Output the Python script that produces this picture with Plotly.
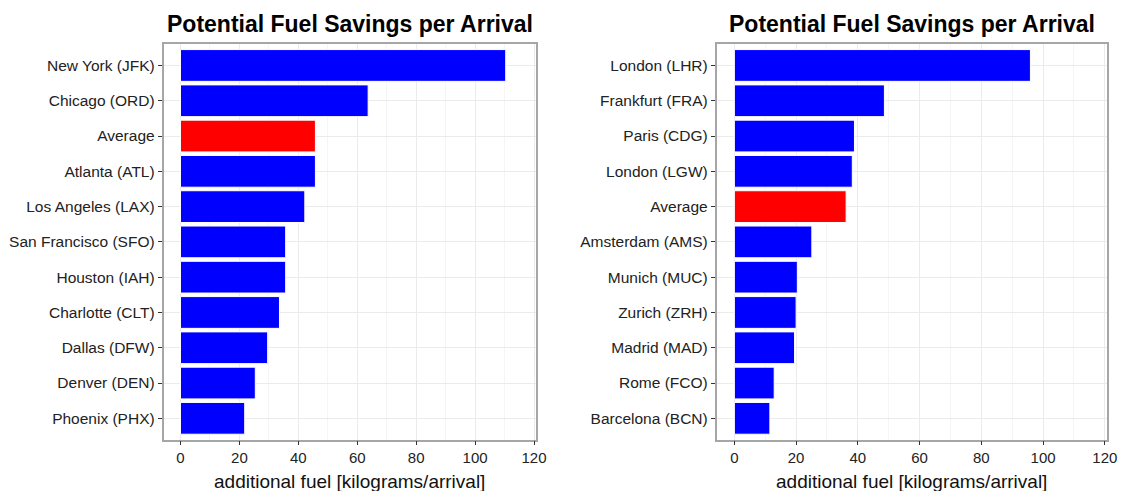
import plotly.graph_objects as go

# US airports (top to bottom)
us_airports = ["New York (JFK)", "Chicago (ORD)", "Average", "Atlanta (ATL)",
               "Los Angeles (LAX)", "San Francisco (SFO)", "Houston (IAH)",
               "Charlotte (CLT)", "Dallas (DFW)", "Denver (DEN)", "Phoenix (PHX)"]
us_fuel = [110.4, 63.7, 45.8, 45.8, 42.2, 35.7, 35.7, 33.6, 29.6, 25.4, 21.8]

# European airports (top to bottom)
eu_airports = ["London (LHR)", "Frankfurt (FRA)", "Paris (CDG)", "London (LGW)",
               "Average", "Amsterdam (AMS)", "Munich (MUC)", "Zurich (ZRH)",
               "Madrid (MAD)", "Rome (FCO)", "Barcelona (BCN)"]
eu_fuel = [95.9, 48.6, 38.9, 38.2, 36.2, 25.1, 20.4, 20.0, 19.5, 12.9, 11.5]

x_ticks = [0, 20, 40, 60, 80, 100, 120]
title_text = "Potential Fuel Savings per Arrival"
axis_label = "additional fuel [kilograms/arrival]"

W, H = 1133, 491
FONT = "Liberation Sans, Arial, sans-serif"
BLUE, RED = "#0000FF", "#FF0000"


def bar_colors(labels):
    return [RED if lab == "Average" else BLUE for lab in labels]


fig = go.Figure()
fig.add_trace(go.Bar(x=us_fuel, y=us_airports, orientation="h", width=0.9,
                     marker=dict(color=bar_colors(us_airports),
                                 line=dict(color="white", width=1)),
                     xaxis="x", yaxis="y", showlegend=False))
fig.add_trace(go.Bar(x=eu_fuel, y=eu_airports, orientation="h", width=0.9,
                     marker=dict(color=bar_colors(eu_airports),
                                 line=dict(color="white", width=1)),
                     xaxis="x2", yaxis="y2", showlegend=False))

ydom = [(H - 439.5) / H, (H - 44.3) / H]
left_dom = [165.0 / W, 541.0 / W]
right_dom = [723.0 / W, 1117.0 / W]


def xaxis_style(dom, anchor):
    return dict(domain=dom, anchor=anchor, range=[-5.75, 120.75],
                tickvals=x_ticks, ticktext=[str(v) for v in x_ticks],
                showgrid=True, gridcolor="#EBEBEB", gridwidth=1.1,
                minor=dict(dtick=10, tick0=0, showgrid=True,
                           gridcolor="#F5F5F5", gridwidth=0.6),
                zeroline=False, showline=True, mirror=True,
                linecolor="#A6A6A6", linewidth=1.6,
                ticks="outside", ticklen=4, tickwidth=1.1, tickcolor="#333333",
                tickfont=dict(family=FONT, size=15, color="#222222"),
                fixedrange=True)


def yaxis_style(labels, dom, anchor):
    n = len(labels)
    return dict(domain=dom, anchor=anchor, type="category",
                categoryorder="array", categoryarray=labels,
                range=[n - 1 + 0.6, -0.6],
                showgrid=True, gridcolor="#EBEBEB", gridwidth=1.1,
                zeroline=False, showline=True, mirror=True,
                linecolor="#A6A6A6", linewidth=1.6,
                ticks="outside", ticklen=4, tickwidth=1.1, tickcolor="#333333",
                tickfont=dict(family=FONT, size=15.5, color="#222222"),
                fixedrange=True)


fig.update_layout(
    width=W, height=H,
    margin=dict(l=0, r=0, t=0, b=0),
    paper_bgcolor="white", plot_bgcolor="white",
    bargap=0.1,
    xaxis=xaxis_style(left_dom, "y"),
    yaxis=yaxis_style(us_airports, ydom, "x"),
    xaxis2=xaxis_style(right_dom, "y2"),
    yaxis2=yaxis_style(eu_airports, ydom, "x2"),
)

annotations = []
for dom in (left_dom, right_dom):
    cx = (dom[0] + dom[1]) / 2
    annotations.append(dict(text="<b>" + title_text + "</b>", x=cx, y=(H - 24) / H,
                            xref="paper", yref="paper", xanchor="center", yanchor="middle",
                            showarrow=False,
                            font=dict(family=FONT, size=23, color="black")))
    annotations.append(dict(text=axis_label, x=cx, y=(H - 481) / H,
                            xref="paper", yref="paper", xanchor="center", yanchor="middle",
                            showarrow=False,
                            font=dict(family=FONT, size=19, color="#111111")))
fig.update_layout(annotations=annotations)

fig.write_html("out.html")
